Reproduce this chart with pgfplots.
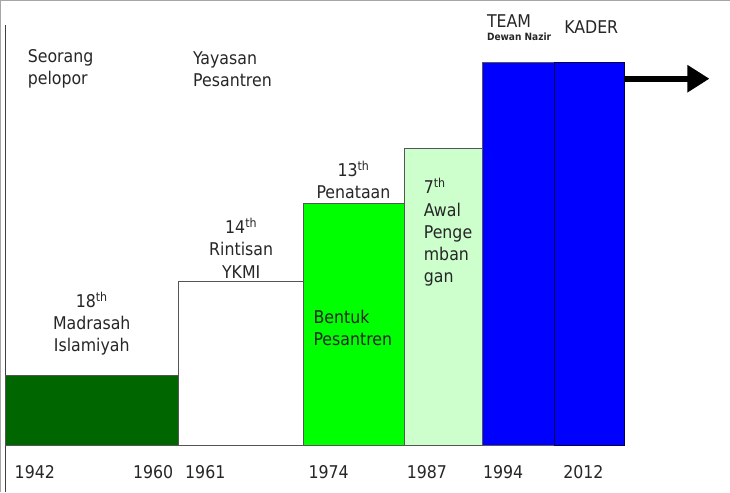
\documentclass[border=0pt]{standalone}
\usepackage{fontspec}
\setmainfont{DejaVu Sans Condensed}
\usepackage{pgfplots}
\pgfplotsset{compat=1.18}
\usetikzlibrary{arrows.meta}
\definecolor{dgreen}{RGB}{0,102,0}
\definecolor{bgreen}{RGB}{0,255,0}
\definecolor{lgreen}{RGB}{204,255,204}
\definecolor{bblue}{RGB}{0,0,255}
\definecolor{edge}{RGB}{85,85,85}
\tikzset{lbl/.style={font=\fontsize{17.5bp}{22bp}\selectfont, inner sep=0pt, text=black!85}}
\begin{document}
\begin{tikzpicture}
\begin{axis}[
  width=730bp, height=493bp, scale only axis,
  xmin=0, xmax=730, ymin=0, ymax=493,
  hide axis, clip=false,
]
% frame
\addplot[draw=gray!70, line width=1bp] coordinates {(3,0)(3,490)(730,490)};
\addplot[draw=black!75, line width=1bp] coordinates {(8,0)(8,466)};
% bars
\addplot[fill=dgreen, draw=edge, line width=0.8bp] coordinates {(8,46)(8,116)(180,116)(180,46)} -- cycle;
\addplot[fill=white, draw=edge, line width=0.8bp] coordinates {(180,46)(180,210)(305,210)(305,46)} -- cycle;
\addplot[fill=bgreen, draw=edge, line width=0.8bp] coordinates {(305,46)(305,288)(406,288)(406,46)} -- cycle;
\addplot[fill=lgreen, draw=edge, line width=0.8bp] coordinates {(406,46)(406,343)(484,343)(484,46)} -- cycle;
\addplot[fill=bblue, draw=edge, line width=0.8bp] coordinates {(484,46)(484,428)(555,428)(555,46)} -- cycle;
\addplot[fill=bblue, draw=black!70!blue, line width=0.8bp] coordinates {(555,46)(555,428)(625,428)(625,46)} -- cycle;
% arrow
\addplot[black, line width=6bp, -{Triangle[length=22bp,width=26bp]}] coordinates {(625,412)(710,412)};
% texts
\node[lbl, anchor=west, align=left] at (axis cs:30,422) {Seorang\\pelopor};
\node[lbl, anchor=west, align=left] at (axis cs:195,421) {Yayasan\\Pesantren};
\node[lbl, align=center] at (axis cs:94,168) {18\textsuperscript{th}\\Madrasah\\Islamiyah};
\node[lbl, align=center] at (axis cs:243,243) {14\textsuperscript{th}\\Rintisan\\YKMI};
\node[lbl, align=center] at (axis cs:355,311) {13\textsuperscript{th}\\Penataan};
\node[lbl, anchor=west, align=left] at (axis cs:315,163) {Bentuk\\Pesantren};
\node[lbl, anchor=west, align=left] at (axis cs:425,259) {7\textsuperscript{th}\\Awal\\Penge\\mban\\gan};
\node[lbl, anchor=west] at (axis cs:488,469) {TEAM};
\node[lbl, anchor=west, font=\fontsize{10bp}{12bp}\selectfont\bfseries] at (axis cs:488,454) {Dewan Nazir};
\node[lbl, anchor=west] at (axis cs:565,463) {KADER};
% years
\node[lbl, anchor=west] at (axis cs:17,20) {1942};
\node[lbl, anchor=west] at (axis cs:135,20) {1960};
\node[lbl, anchor=west] at (axis cs:187,20) {1961};
\node[lbl, anchor=west] at (axis cs:310,20) {1974};
\node[lbl, anchor=west] at (axis cs:408,20) {1987};
\node[lbl, anchor=west] at (axis cs:484,20) {1994};
\node[lbl, anchor=west] at (axis cs:564,20) {2012};
\end{axis}
\end{tikzpicture}
\end{document}
